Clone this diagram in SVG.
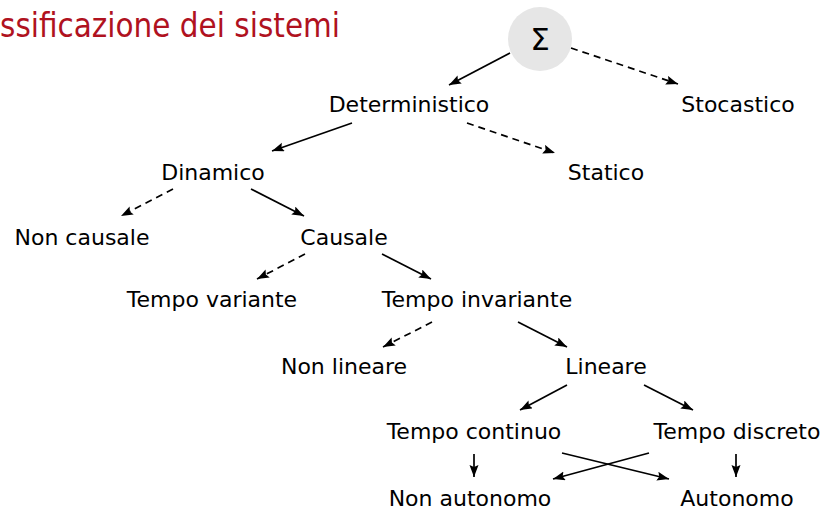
<svg xmlns="http://www.w3.org/2000/svg" width="827" height="513" viewBox="0 0 827 513">
<style>
.t{font-family:"DejaVu Sans",sans-serif;font-size:22px;fill:#000;text-anchor:middle}
.title{font-family:"DejaVu Sans",sans-serif;font-size:33px;fill:#b0121f;text-anchor:end}
.s{stroke:#000;stroke-width:1.7;fill:none;marker-end:url(#ah)}
.d{stroke-dasharray:7 5}
</style>
<defs>
<marker id="ah" markerUnits="userSpaceOnUse" markerWidth="14" markerHeight="10" refX="12" refY="4.5" orient="auto">
<path d="M0,0 L12,4.5 L0,9 L2,4.5 z" fill="#000"/>
</marker>
</defs>
<text class="title" x="340" y="37" textLength="340" lengthAdjust="spacingAndGlyphs">ssificazione dei sistemi</text>
<g id="sigma">
<circle cx="540" cy="39" r="32" fill="#e6e6e6"/>
<text class="t" x="540" y="50" style="font-size:31px">Σ</text>
</g>
<g id="deterministico"><text class="t" x="409" y="112">Deterministico</text></g>
<g id="stocastico"><text class="t" x="738" y="112">Stocastico</text></g>
<g id="dinamico"><text class="t" x="213" y="180">Dinamico</text></g>
<g id="statico"><text class="t" x="606" y="180">Statico</text></g>
<g id="noncausale"><text class="t" x="82" y="245">Non causale</text></g>
<g id="causale"><text class="t" x="344" y="245">Causale</text></g>
<g id="tempovariante"><text class="t" x="212" y="307">Tempo variante</text></g>
<g id="tempoinvariante"><text class="t" x="477" y="307">Tempo invariante</text></g>
<g id="nonlineare"><text class="t" x="344" y="374">Non lineare</text></g>
<g id="lineare"><text class="t" x="606" y="374">Lineare</text></g>
<g id="tempocontinuo"><text class="t" x="474" y="439">Tempo continuo</text></g>
<g id="tempodiscreto"><text class="t" x="737" y="439">Tempo discreto</text></g>
<g id="nonautonomo"><text class="t" x="470" y="506">Non autonomo</text></g>
<g id="autonomo"><text class="t" x="737" y="506">Autonomo</text></g>
<g id="connectors">
<line class="s" x1="510" y1="53" x2="449" y2="85"/>
<line class="s d" x1="571" y1="48" x2="678" y2="84"/>
<line class="s" x1="352" y1="123" x2="272" y2="151"/>
<line class="s d" x1="467" y1="123" x2="555" y2="153"/>
<line class="s d" x1="173" y1="189" x2="121" y2="216"/>
<line class="s" x1="251" y1="189" x2="304" y2="216"/>
<line class="s d" x1="305" y1="254" x2="257" y2="279"/>
<line class="s" x1="382" y1="254" x2="431" y2="279"/>
<line class="s d" x1="432" y1="322" x2="383" y2="347"/>
<line class="s" x1="518" y1="322" x2="567" y2="347"/>
<line class="s" x1="567" y1="385" x2="520" y2="410"/>
<line class="s" x1="644" y1="385" x2="693" y2="410"/>
<line class="s" x1="474" y1="454" x2="474" y2="477"/>
<line class="s" x1="736" y1="454" x2="736" y2="477"/>
<line class="s" x1="562" y1="453" x2="669" y2="479"/>
<line class="s" x1="649" y1="453" x2="553" y2="479"/>
</g>
</svg>
